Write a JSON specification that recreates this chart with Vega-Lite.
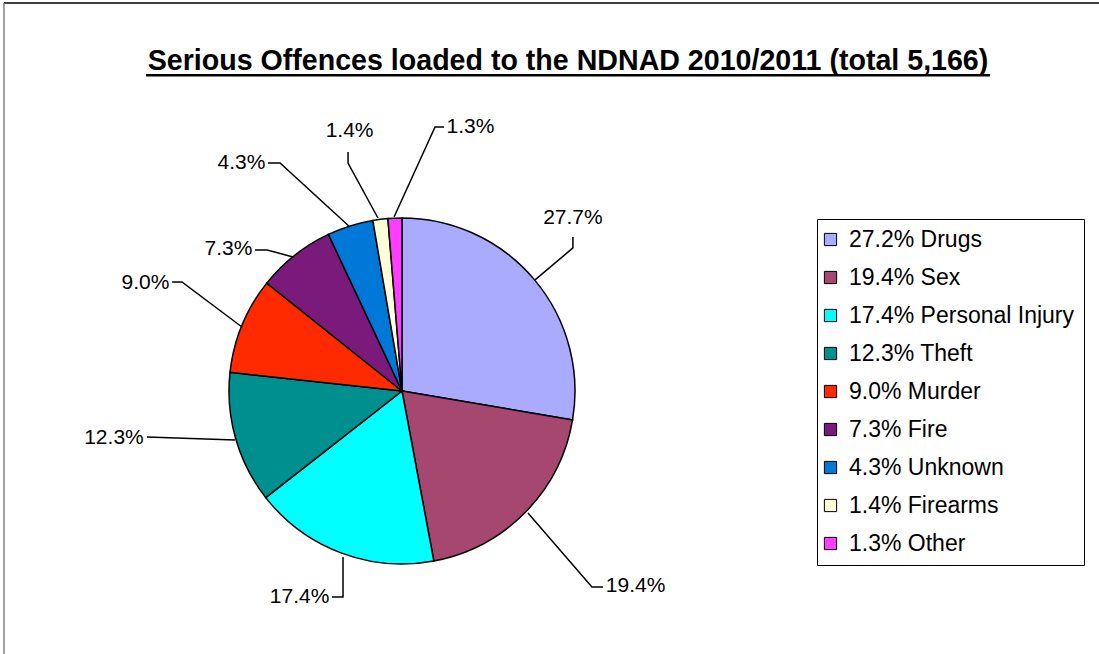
{
  "$schema": "https://vega.github.io/schema/vega-lite/v6.json",
  "width": 1099,
  "height": 654,
  "padding": 0,
  "autosize": "none",
  "background": "white",
  "config": {"view": {"stroke": null}},
  "title": {
    "text": "Serious Offences loaded to the NDNAD 2010/2011 (total 5,166)",
    "font": "Liberation Sans",
    "fontSize": 28.6,
    "fontWeight": "bold",
    "color": "black",
    "anchor": "middle",
    "frame": "group",
    "dx": 18.5,
    "offset": -99,
    "baseline": "alphabetic"
  },
  "datasets": {
    "slices": [
      {"legend": "27.2% Drugs", "pct": 27.7, "rank": 1},
      {"legend": "19.4% Sex", "pct": 19.4, "rank": 2},
      {"legend": "17.4% Personal Injury", "pct": 17.4, "rank": 3},
      {"legend": "12.3% Theft", "pct": 12.3, "rank": 4},
      {"legend": "9.0% Murder", "pct": 9.0, "rank": 5},
      {"legend": "7.3% Fire", "pct": 7.3, "rank": 6},
      {"legend": "4.3% Unknown", "pct": 4.3, "rank": 7},
      {"legend": "1.4% Firearms", "pct": 1.4, "rank": 8},
      {"legend": "1.3% Other", "pct": 1.3, "rank": 9}
    ],
    "leaders": [
      {"label": "27.7%", "pt": 1, "x": 0.769, "y": 0.642},
      {"label": "27.7%", "pt": 2, "x": 0.988, "y": 0.827},
      {"label": "27.7%", "pt": 3, "x": 0.988, "y": 0.890},
      {"label": "19.4%", "pt": 1, "x": 0.728, "y": -0.705},
      {"label": "19.4%", "pt": 2, "x": 1.098, "y": -1.133},
      {"label": "19.4%", "pt": 3, "x": 1.162, "y": -1.133},
      {"label": "17.4%", "pt": 1, "x": -0.341, "y": -0.960},
      {"label": "17.4%", "pt": 2, "x": -0.341, "y": -1.191},
      {"label": "17.4%", "pt": 3, "x": -0.405, "y": -1.191},
      {"label": "12.3%", "pt": 1, "x": -0.965, "y": -0.283},
      {"label": "12.3%", "pt": 2, "x": -1.474, "y": -0.266},
      {"label": "9.0%", "pt": 1, "x": -0.925, "y": 0.370},
      {"label": "9.0%", "pt": 2, "x": -1.272, "y": 0.630},
      {"label": "9.0%", "pt": 3, "x": -1.329, "y": 0.630},
      {"label": "7.3%", "pt": 1, "x": -0.630, "y": 0.775},
      {"label": "7.3%", "pt": 2, "x": -0.780, "y": 0.815},
      {"label": "7.3%", "pt": 3, "x": -0.850, "y": 0.815},
      {"label": "4.3%", "pt": 1, "x": -0.301, "y": 0.948},
      {"label": "4.3%", "pt": 2, "x": -0.705, "y": 1.318},
      {"label": "4.3%", "pt": 3, "x": -0.775, "y": 1.318},
      {"label": "1.4%", "pt": 1, "x": -0.139, "y": 1.000},
      {"label": "1.4%", "pt": 2, "x": -0.312, "y": 1.318},
      {"label": "1.4%", "pt": 3, "x": -0.312, "y": 1.382},
      {"label": "1.3%", "pt": 1, "x": -0.046, "y": 1.006},
      {"label": "1.3%", "pt": 2, "x": 0.191, "y": 1.526},
      {"label": "1.3%", "pt": 3, "x": 0.243, "y": 1.526}
    ],
    "labels": [
      {"label": "27.7%", "x": 0.988, "y": 1.000},
      {"label": "19.4%", "x": 1.350, "y": -1.127},
      {"label": "17.4%", "x": -0.592, "y": -1.191},
      {"label": "12.3%", "x": -1.665, "y": -0.272},
      {"label": "9.0%", "x": -1.483, "y": 0.624},
      {"label": "7.3%", "x": -1.003, "y": 0.821},
      {"label": "4.3%", "x": -0.928, "y": 1.318},
      {"label": "1.4%", "x": -0.303, "y": 1.503},
      {"label": "1.3%", "x": 0.396, "y": 1.526}
    ]
  },
  "layer": [
    {
      "data": {"values": [{}]},
      "mark": {"type": "rule", "color": "black", "strokeWidth": 1.5},
      "encoding": {
        "x": {"datum": -2.3006, "type": "quantitative", "scale": {"domain": [-2.3237, 4.0289], "nice": false, "zero": false}, "axis": null},
        "x2": {"datum": 4.0289},
        "y": {"datum": 2.2428, "type": "quantitative", "scale": {"domain": [-1.5202, 2.2601], "nice": false, "zero": false}, "axis": null}
      }
    },
    {
      "data": {"values": [{}]},
      "mark": {"type": "rule", "color": "#808080", "strokeWidth": 1.5},
      "encoding": {
        "x": {"datum": -2.3006, "type": "quantitative", "scale": {"domain": [-2.3237, 4.0289], "nice": false, "zero": false}, "axis": null},
        "y": {"datum": 2.2428, "type": "quantitative", "scale": {"domain": [-1.5202, 2.2601], "nice": false, "zero": false}, "axis": null},
        "y2": {"datum": -1.5202}
      }
    },
    {
      "data": {"values": [{}]},
      "mark": {"type": "rule", "color": "black", "strokeWidth": 2.5},
      "encoding": {
        "x": {"datum": -1.4798, "type": "quantitative", "scale": {"domain": [-2.3237, 4.0289], "nice": false, "zero": false}, "axis": null},
        "x2": {"datum": 3.3988},
        "y": {"datum": 1.8249, "type": "quantitative", "scale": {"domain": [-1.5202, 2.2601], "nice": false, "zero": false}, "axis": null}
      }
    },
    {
      "data": {"name": "slices"},
      "mark": {"type": "arc", "radius": 173, "stroke": "black", "strokeWidth": 1.5},
      "encoding": {
        "x": {"datum": 0, "type": "quantitative", "scale": {"domain": [-2.3237, 4.0289], "nice": false, "zero": false}, "axis": null},
        "y": {"datum": 0, "type": "quantitative", "scale": {"domain": [-1.5202, 2.2601], "nice": false, "zero": false}, "axis": null},
        "theta": {"field": "pct", "type": "quantitative", "stack": true},
        "order": {"field": "rank", "type": "quantitative"},
        "color": {
          "field": "legend",
          "type": "nominal",
          "scale": {
            "domain": ["27.2% Drugs", "19.4% Sex", "17.4% Personal Injury", "12.3% Theft", "9.0% Murder", "7.3% Fire", "4.3% Unknown", "1.4% Firearms", "1.3% Other"],
            "range": ["#AAAAFF", "#A6476F", "#00FFFF", "#008F8F", "#FF2A00", "#7A1A7A", "#0078D7", "#FFFFD9", "#FF3DFF"]
          },
          "legend": {
            "title": null,
            "orient": "none",
            "legendX": 817,
            "legendY": 219,
            "strokeColor": "black",
            "fillColor": "white",
            "padding": 9,
            "rowPadding": 14,
            "symbolType": "square",
            "symbolSize": 150,
            "symbolOffset": -7,
            "symbolStrokeColor": "black",
            "symbolStrokeWidth": 1,
            "symbolOpacity": 1,
            "labelFont": "Liberation Sans",
            "labelFontSize": 23,
            "labelColor": "black",
            "labelLimit": 400,
            "labelOffset": 7
          }
        }
      }
    },
    {
      "data": {"name": "leaders"},
      "mark": {"type": "line", "color": "black", "strokeWidth": 1.5},
      "encoding": {
        "x": {"field": "x", "type": "quantitative", "scale": {"domain": [-2.3237, 4.0289], "nice": false, "zero": false}, "axis": null},
        "y": {"field": "y", "type": "quantitative", "scale": {"domain": [-1.5202, 2.2601], "nice": false, "zero": false}, "axis": null},
        "detail": {"field": "label", "type": "nominal"},
        "order": {"field": "pt", "type": "quantitative"}
      }
    },
    {
      "data": {"name": "labels"},
      "mark": {"type": "text", "font": "Liberation Sans", "fontSize": 21, "color": "black", "align": "center", "baseline": "middle"},
      "encoding": {
        "x": {"field": "x", "type": "quantitative", "scale": {"domain": [-2.3237, 4.0289], "nice": false, "zero": false}, "axis": null},
        "y": {"field": "y", "type": "quantitative", "scale": {"domain": [-1.5202, 2.2601], "nice": false, "zero": false}, "axis": null},
        "text": {"field": "label", "type": "nominal"}
      }
    }
  ]
}
